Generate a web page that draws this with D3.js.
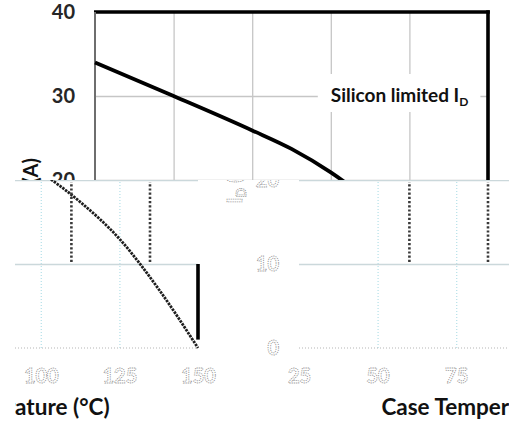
<!DOCTYPE html>
<html>
<head>
<meta charset="utf-8">
<script src="https://cdn.jsdelivr.net/npm/d3@7"></script>
<style>
  body { margin: 0; background: #fff; }
  svg { display: block; font-family: Lato, 'Open Sans', sans-serif; }
</style>
</head>
<body>
<svg id="derating" width="516" height="427"></svg>
<script>
// values
const caseTemp = [25, 50, 75, 87.5, 100, 112.5, 125, 137.5, 150];
const drainCurrent = [34.0, 30.0, 25.9, 23.7, 20.9, 17.4, 13.0, 7.0, 0];
const xTicks = [25, 50, 75, 100, 125, 150];
const yTicks = [0, 10, 20, 30, 40];
const xTitle = 'Case Temperature (°C)';
const yTitle = ['I', 'D', ' (A)'];
const curveLabel = ['Silicon limited I', 'D'];

const drawChart = () => {
    const svg = d3.select('#derating');
    const width = +svg.attr('width');
    const height = +svg.attr('height');

    // the picture is split: top part is in place, lower part is wrapped sideways
    const split = 180;
    const shiftA = 204;
    const period = 494;
    const shiftB = shiftA - period;
    const wrapAt = 509;

    const x = d3.scaleLinear().domain([25, 150]).range([95, 488]);
    const y = d3.scaleLinear().domain([0, 40]).range([348, 12]);

    const defs = svg.append('defs');
    function clip(id, x0, y0, x1, y1) {
        defs.append('clipPath').attr('id', id)
            .append('rect')
            .attr('x', x0).attr('y', y0)
            .attr('width', x1 - x0).attr('height', y1 - y0);
        return `url(#${id})`;
    }

    function styleLabels(sel, faint) {
        sel.attr('font-family', 'Lato, sans-serif')
            .attr('font-size', 20)
            .attr('font-weight', 700);
        sel.selectAll('text')
            .attr('fill', faint ? '#fff' : '#262626')
            .attr('stroke', faint ? '#8c8c8c' : null)
            .attr('stroke-width', faint ? 0.8 : null)
            .attr('stroke-dasharray', faint ? '1.2,1' : null);
    }

    // one copy of the chart (faint = the wrapped lower copies)
    function drawLayer(g, faint) {
        // vertical gridlines
        g.append('g')
            .attr('transform', `translate(0,${y(0)})`)
            .call(d3.axisBottom(x).tickValues(xTicks.slice(1, -1))
                .tickSize(-(y(0) - y(40))).tickFormat(''))
            .call(a => a.select('.domain').remove())
            .selectAll('line')
            .attr('stroke', faint ? '#b9e2ea' : '#c6c6c6')
            .attr('stroke-width', 1.3)
            .attr('stroke-dasharray', faint ? '1,2' : null);

        // horizontal gridlines
        g.append('g')
            .attr('transform', `translate(${x(25)},0)`)
            .call(d3.axisLeft(y).tickValues(yTicks.slice(1, -1))
                .tickSize(-(x(150) - x(25))).tickFormat(''))
            .call(a => a.select('.domain').remove())
            .selectAll('line')
            .attr('stroke', faint ? '#cbd8db' : '#c6c6c6')
            .attr('stroke-width', 1.3);

        // y tick labels, only those that fall in this band
        const yVals = yTicks.filter(d => faint ? y(d) >= split - 8 : y(d) <= split);
        const yLab = g.append('g')
            .attr('transform', `translate(${x(25)},0)`)
            .call(d3.axisLeft(y).tickValues(yVals).tickSize(0).tickPadding(20));
        yLab.select('.domain').remove();
        styleLabels(yLab, faint);

        if (faint) {
            // zero line
            g.append('line')
                .attr('x1', x(25)).attr('x2', x(150))
                .attr('y1', y(0)).attr('y2', y(0))
                .attr('stroke', '#b5b5b5')
                .attr('stroke-width', 1)
                .attr('stroke-dasharray', '1,2');

            // x tick labels
            const xLab = g.append('g')
                .attr('transform', `translate(0,${y(0)})`)
                .call(d3.axisBottom(x).tickValues(xTicks).tickSize(0).tickPadding(21));
            xLab.select('.domain').remove();
            styleLabels(xLab, faint);

            // x axis title
            g.append('text')
                .attr('x', (x(25) + x(150)) / 2 - 3)
                .attr('y', y(0) + 67)
                .attr('text-anchor', 'middle')
                .attr('font-size', 22.5)
                .attr('font-weight', 700)
                .attr('fill', '#111')
                .text(xTitle);
        } else {
            // top and left frame
            g.append('line')
                .attr('x1', x(25) - 1).attr('x2', x(150) + 1.8)
                .attr('y1', y(40)).attr('y2', y(40))
                .attr('stroke', '#000').attr('stroke-width', 3.6);
            g.append('line')
                .attr('x1', x(25)).attr('x2', x(25))
                .attr('y1', y(40)).attr('y2', y(0))
                .attr('stroke', '#6e6e6e').attr('stroke-width', 2);
        }

        // right frame
        g.append('line')
            .attr('x1', x(150)).attr('x2', x(150))
            .attr('y1', faint ? y(10) : y(40) - 1.8).attr('y2', faint ? y(1) : y(0))
            .attr('stroke', '#000').attr('stroke-width', 3.6);

        // silicon limited curve
        const line = d3.line()
            .x(d => x(d[0]))
            .y(d => y(d[1]))
            .curve(d3.curveMonotoneX);
        g.append('path')
            .attr('d', line(caseTemp.map((t, i) => [t, drainCurrent[i]])))
            .attr('fill', 'none')
            .attr('stroke', faint ? '#1e1e1e' : '#000')
            .attr('stroke-width', faint ? 2.8 : 3.8)
            .attr('stroke-dasharray', faint ? '2.5,1' : null);

        if (!faint) {
            // curve label on a white patch
            const lab = g.append('g');
            const patch = lab.append('rect').attr('fill', '#fff');
            const txt = lab.append('text')
                .attr('x', x(100))
                .attr('y', y(30) + 6)
                .attr('font-size', 19)
                .attr('font-weight', 700)
                .attr('fill', '#111');
            txt.append('tspan').text(curveLabel[0]);
            txt.append('tspan').text(curveLabel[1])
                .attr('font-size', 12).attr('dy', 4);
            const bb = txt.node().getBBox();
            patch.attr('x', bb.x - 13).attr('y', bb.y - 9)
                .attr('width', bb.width + 25).attr('height', bb.height + 12);
        }

        // y axis title
        const yt = g.append('text')
            .attr('transform', 'translate(38,158) rotate(-90)')
            .attr('text-anchor', 'end')
            .attr('font-size', 20)
            .attr('font-weight', 700)
            .attr('fill', faint ? '#fff' : '#111')
            .attr('stroke', faint ? '#8c8c8c' : null)
            .attr('stroke-width', faint ? 0.8 : null)
            .attr('stroke-dasharray', faint ? '1.2,1' : null);
        yt.append('tspan').text(yTitle[0]);
        yt.append('tspan').text(yTitle[1]).attr('font-size', 13).attr('dy', 4);
        yt.append('tspan').text(yTitle[2]).attr('dy', -4);
    }

    // top band, in place
    drawLayer(svg.append('g').attr('clip-path', clip('top', 0, 0, width, split)).append('g'), false);

    // lower band, two wrapped copies
    drawLayer(svg.append('g').attr('clip-path', clip('lowA', 0, split, wrapAt, height))
        .append('g').attr('transform', `translate(${shiftA},0)`), true);
    drawLayer(svg.append('g').attr('clip-path', clip('lowB', wrapAt - period, split, width, height))
        .append('g').attr('transform', `translate(${shiftB},0)`), true);

    // broken strip just under the split
    const strip = svg.append('g').attr('clip-path', clip('strip', 0, split + 2, width, y(10) - 2));
    [0, -338].forEach(s => {
        strip.append('g').selectAll('line')
            .data(xTicks.slice(-2))
            .join('line')
            .attr('x1', d => x(d) + s).attr('x2', d => x(d) + s)
            .attr('y1', y(20)).attr('y2', y(10))
            .attr('stroke', '#3a3a3a')
            .attr('stroke-width', 2.6)
            .attr('stroke-dasharray', '2.2,2');
    });
};

drawChart();
</script>
</body>
</html>
